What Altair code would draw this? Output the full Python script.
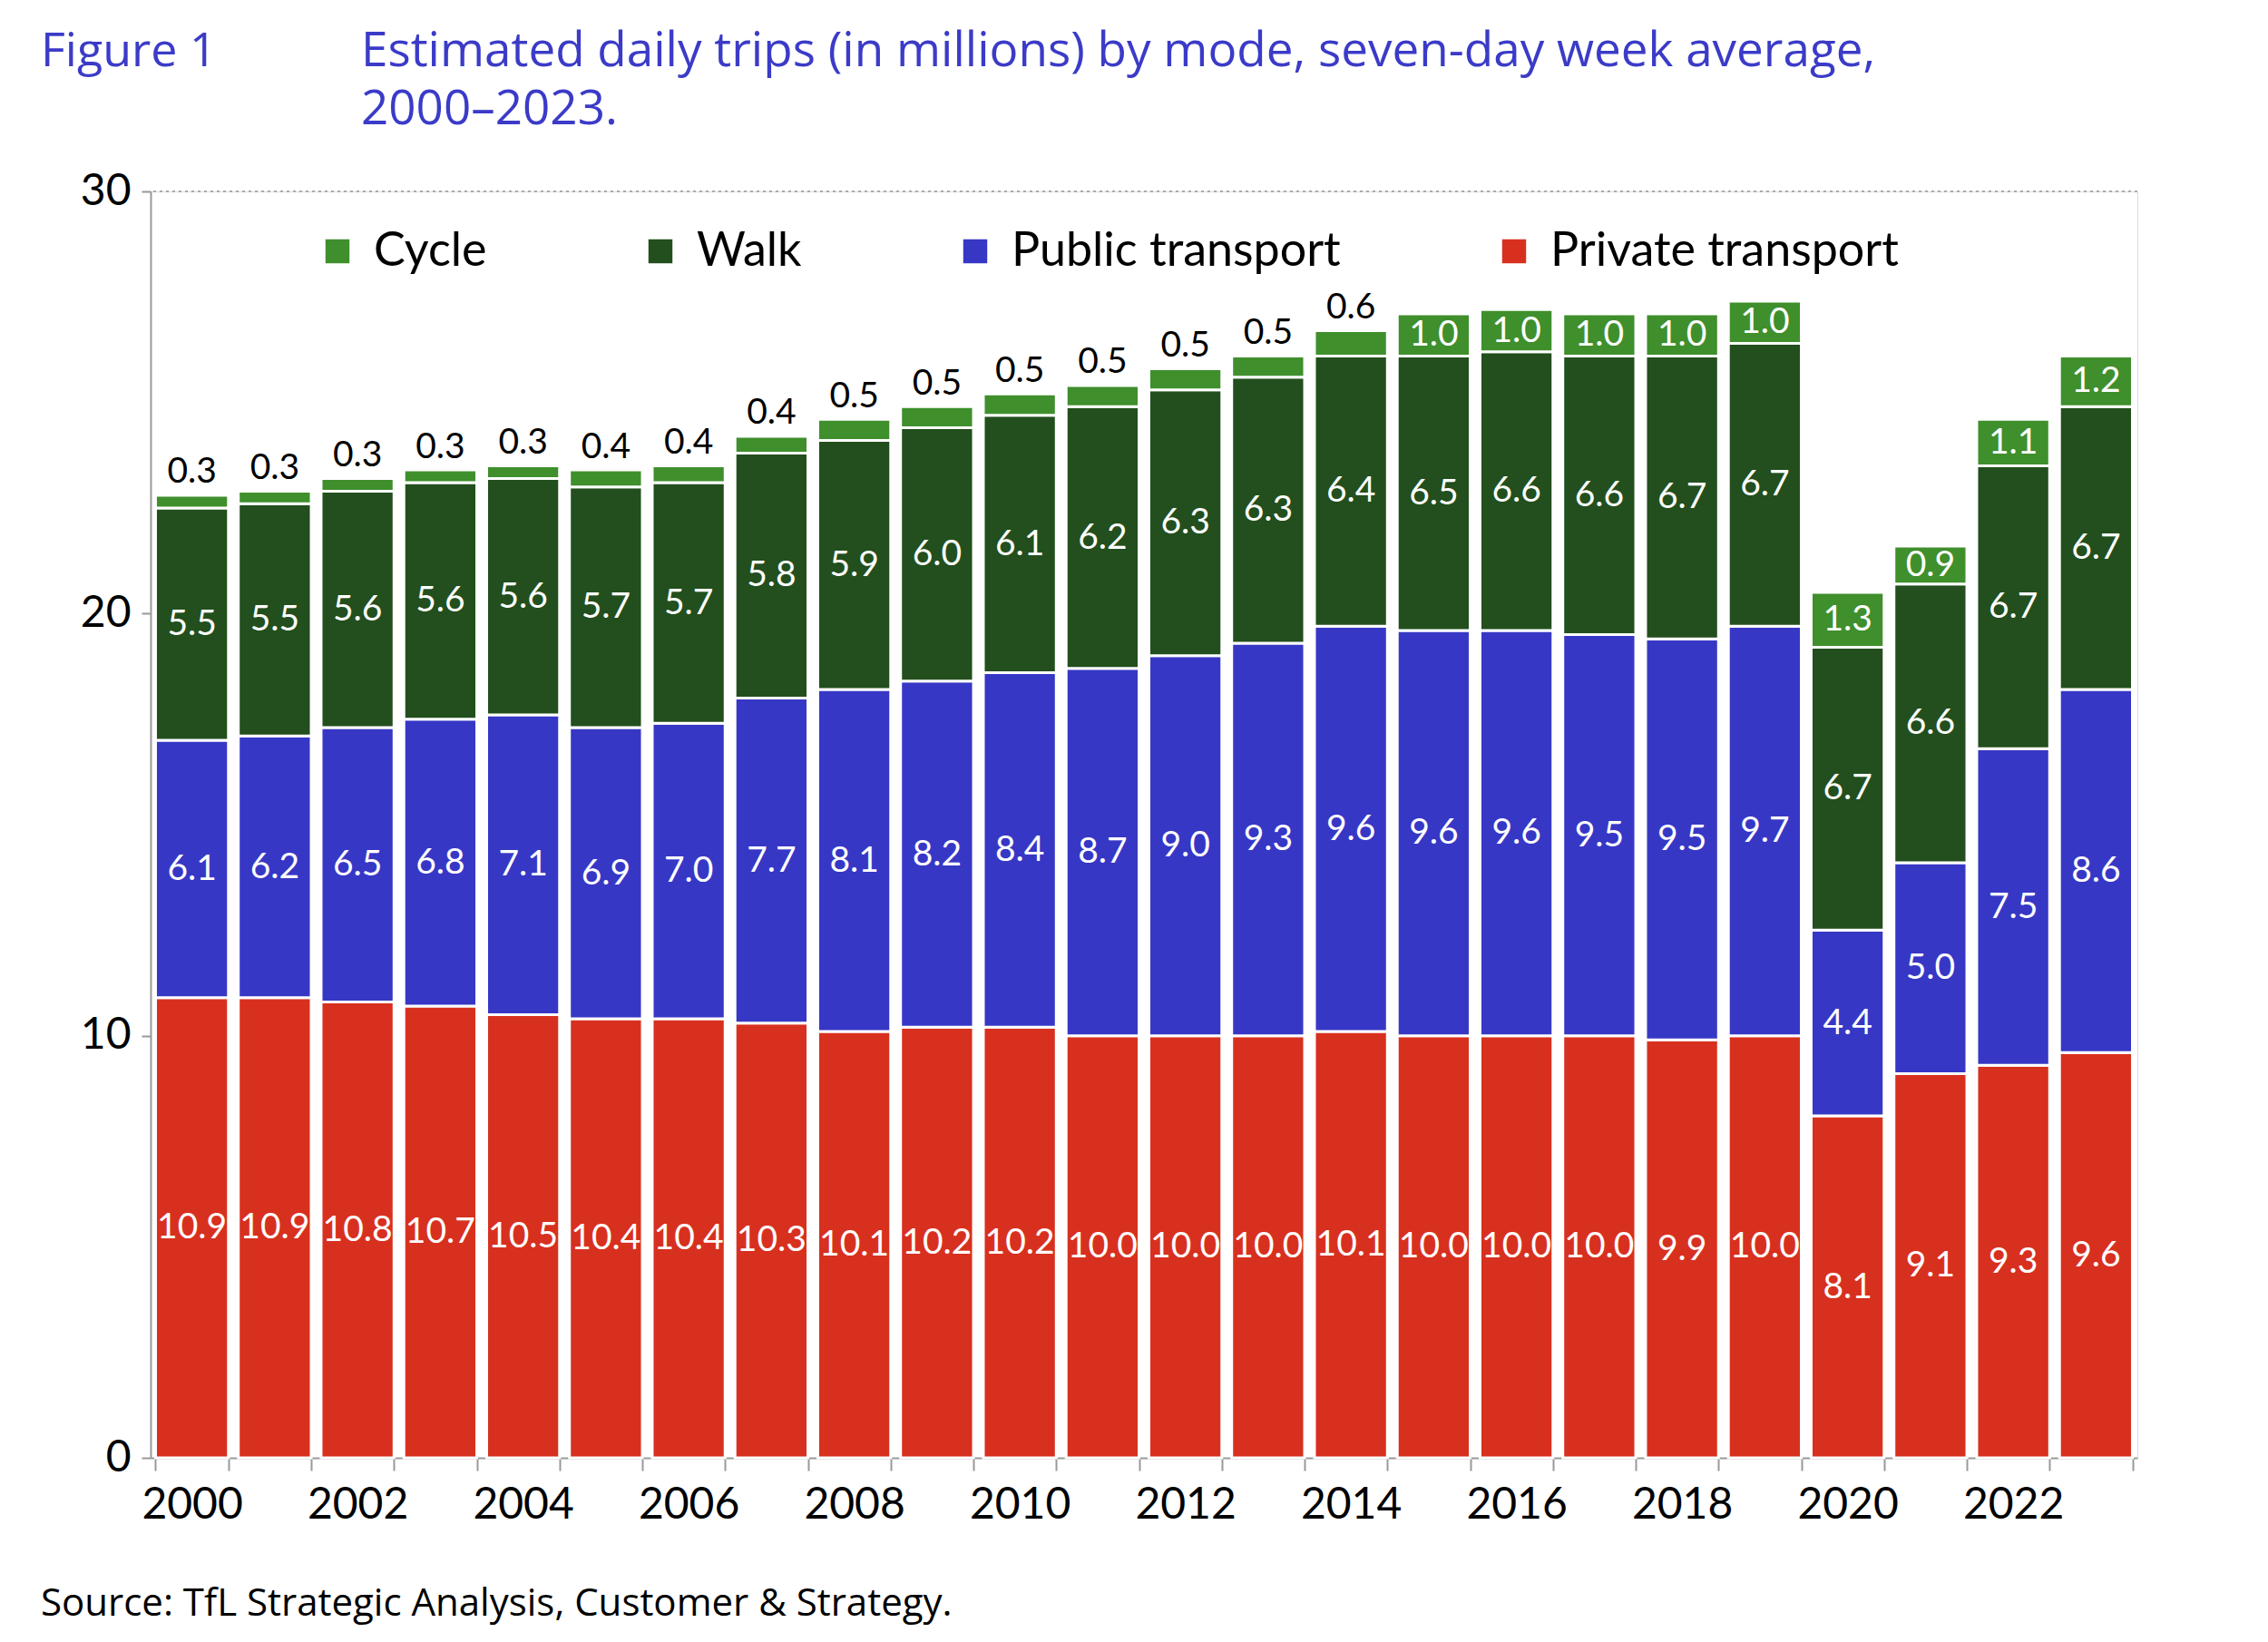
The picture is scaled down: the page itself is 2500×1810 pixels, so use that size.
import pandas as pd
import altair as alt

years = list(range(2000, 2024))
private = [10.9, 10.9, 10.8, 10.7, 10.5, 10.4, 10.4, 10.3, 10.1, 10.2, 10.2, 10.0,
           10.0, 10.0, 10.1, 10.0, 10.0, 10.0, 9.9, 10.0, 8.1, 9.1, 9.3, 9.6]
public = [6.1, 6.2, 6.5, 6.8, 7.1, 6.9, 7.0, 7.7, 8.1, 8.2, 8.4, 8.7,
          9.0, 9.3, 9.6, 9.6, 9.6, 9.5, 9.5, 9.7, 4.4, 5.0, 7.5, 8.6]
walk = [5.5, 5.5, 5.6, 5.6, 5.6, 5.7, 5.7, 5.8, 5.9, 6.0, 6.1, 6.2,
        6.3, 6.3, 6.4, 6.5, 6.6, 6.6, 6.7, 6.7, 6.7, 6.6, 6.7, 6.7]
cycle = [0.3, 0.3, 0.3, 0.3, 0.3, 0.4, 0.4, 0.4, 0.5, 0.5, 0.5, 0.5,
         0.5, 0.5, 0.6, 1.0, 1.0, 1.0, 1.0, 1.0, 1.3, 0.9, 1.1, 1.2]

modes = ["Cycle", "Walk", "Public transport", "Private transport"]
colors = ["#3f8f2c", "#224f1d", "#3737c6", "#d8301f"]
FONT = "Lato"
W, H = 2190, 1396

rows = []
for i, y in enumerate(years):
    base = 0.0
    for mode, vals in [("Private transport", private), ("Public transport", public),
                       ("Walk", walk), ("Cycle", cycle)]:
        v = vals[i]
        inside = not (mode == "Cycle" and y < 2015)
        rows.append({
            "year": str(y), "mode": mode, "v0": base, "v1": base + v,
            "label": f"{v:.1f}",
            "ly": base + v / 2 if inside else base + v + 0.55,
            "lc": "white" if inside else "black",
        })
        base += v
df = pd.DataFrame(rows)

x = alt.X("year:O", title=None, sort=[str(y) for y in years],
          scale=alt.Scale(paddingInner=0.12, paddingOuter=0.06),
          axis=alt.Axis(labelExpr="toNumber(datum.value) % 2 == 0 ? datum.value : ''",
                        labelAngle=0, labelFont=FONT, labelFontSize=48, labelColor="black",
                        labelPadding=14, tickBand="extent", tickColor="#999999",
                        tickSize=14, domainColor="#999999", domainWidth=2, tickWidth=2))
yscale = alt.Scale(domain=[0, 30], nice=False)

bars = alt.Chart(df).mark_bar(stroke="white", strokeWidth=3).encode(
    x=x,
    y=alt.Y("v0:Q", scale=yscale, title=None,
            axis=alt.Axis(values=[0, 10, 20, 30], grid=False, labelFont=FONT,
                          labelFontSize=48, labelColor="black", labelPadding=12,
                          tickColor="#999999", tickSize=10, tickWidth=2,
                          domainColor="#999999", domainWidth=2)),
    y2="v1:Q",
    color=alt.Color("mode:N", scale=alt.Scale(domain=modes, range=colors),
                    legend=alt.Legend(title=None, orient="none", legendX=180, legendY=40,
                                      direction="horizontal", symbolType="square",
                                      symbolSize=700, symbolStrokeWidth=0, labelLimit=0,
                                      labelFont=FONT, labelFontSize=52, labelColor="black",
                                      columnPadding=165, labelOffset=14)),
)

labels = alt.Chart(df).mark_text(font=FONT, fontSize=39, baseline="middle").encode(
    x=alt.X("year:O", sort=[str(y) for y in years]),
    y=alt.Y("ly:Q", scale=yscale),
    text="label:N",
    color=alt.Color("lc:N", scale=None),
)

grid = alt.Chart(pd.DataFrame({"v": [30]})).mark_rule(
    color="#aaaaaa", strokeDash=[3, 4], strokeWidth=2).encode(y=alt.Y("v:Q", scale=yscale))

def note(text, dx, dy, size, color, font="Open Sans"):
    return alt.Chart(pd.DataFrame({"t": [text]})).mark_text(
        font=font, fontSize=size, color=color, align="left", baseline="alphabetic"
    ).encode(text="t:N", x=alt.value(dx), y=alt.value(dy))

blue = "#3b3bc8"
header = (note("Figure 1", -121, -138, 52, blue)
          + note("Estimated daily trips (in millions) by mode, seven-day week average,", 232, -138, 53, blue)
          + note("2000–2023.", 232, -74, 53, blue)
          + note("Source: TfL Strategic Analysis, Customer & Strategy.", -121, 1570, 42, "black"))

chart = alt.layer(grid, bars, labels, header).properties(
    width=W, height=H, autosize=alt.AutoSizeParams(type="none"),
    padding={"left": 158, "top": 203, "right": 130, "bottom": 195},
).configure_view(stroke=None).configure(background="white")

chart.save("out.html", embed_options={"renderer": "svg", "actions": False})
